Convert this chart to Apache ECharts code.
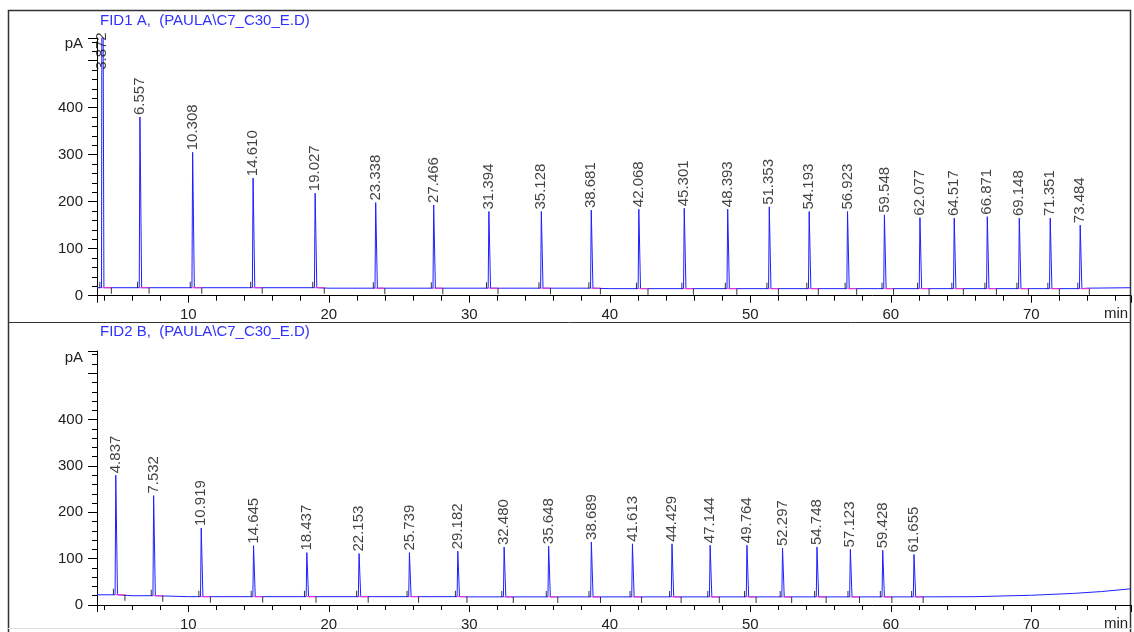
<!DOCTYPE html>
<html>
<head>
<meta charset="utf-8">
<script src="https://cdn.jsdelivr.net/npm/echarts@6/dist/echarts.min.js"></script>
<style>html,body{margin:0;padding:0;background:#fff}#main{width:1134px;height:632px}</style>
</head>
<body>
<div id="main"></div>
<script>
// FID1 A : retention times (min) and apex heights (pA)
var rtA = [3.872, 6.557, 10.308, 14.610, 19.027, 23.338, 27.466, 31.394, 35.128, 38.681, 42.068, 45.301,
           48.393, 51.353, 54.193, 56.923, 59.548, 62.077, 64.517, 66.871, 69.148, 71.351, 73.484];
var hA = [1200, 380, 305, 250, 218, 198, 193, 179, 179, 182, 184, 186,
          184, 189, 179, 179, 172, 166, 165, 168, 165, 165, 150];
var baseA = [[3.5, 17], [20, 16], [40, 15], [60, 15], [74, 16], [77.1, 17]];

// FID2 B
var rtB = [4.837, 7.532, 10.919, 14.645, 18.437, 22.153, 25.739, 29.182, 32.480, 35.648,
           38.689, 41.613, 44.429, 47.144, 49.764, 52.297, 54.748, 57.123, 59.428, 61.655];
var hB = [280, 236, 166, 128, 113, 111, 113, 116, 125, 127,
          136, 132, 132, 129, 129, 123, 125, 120, 118, 109];
var baseB = [[3.5, 22], [6, 20], [10, 18], [30, 17.5], [62, 17.5], [66, 18], [70, 21], [73, 25], [75, 29], [77.1, 35]];

var xTicks = [10, 20, 30, 40, 50, 60, 70];
var yTicks = [0, 100, 200, 300, 400];

var blue = '#1f1fff';
var font = 'Liberation Sans, Arial, sans-serif';

// baseline level at time t: last knot at or before t
function baseAt(base, t) {
    var b = base[0][1];
    for (var i = 0; i < base.length; i++) {
        if (base[i][0] <= t) b = base[i][1];
    }
    return b;
}

function trace(rt, h, base) {
    var pts = base.slice();
    for (var i = 0; i < rt.length; i++) {
        var b = baseAt(base, rt[i]);
        pts.push([rt[i] - 0.05, b], [rt[i], h[i]], [rt[i] + 0.12, b]);
    }
    pts.sort(function (a, b) { return a[0] - b[0]; });
    return pts;
}

// integration baseline under each peak
function pinks(rt, base) {
    var pts = [];
    for (var i = 0; i < rt.length; i++) {
        var b = baseAt(base, rt[i]);
        pts.push([rt[i], b], [rt[i] + 0.65, b], [rt[i] + 0.66, '-']);
    }
    return pts;
}

function marks(rt, base, shift) {
    return rt.map(function (t) { return [t + shift, baseAt(base, t)]; });
}

function labels(rt, h) {
    return rt.map(function (t, i) { return [t, Math.min(h[i], 476)]; });
}

function xAxis(idx) {
    return {
        gridIndex: idx, type: 'value', min: 3.5, max: 77.1, splitNumber: 7,
        axisLine: { lineStyle: { color: '#000', width: 1 } },
        axisTick: { length: 7, lineStyle: { color: '#000' } },
        minorTick: { show: true, splitNumber: 5, length: 5, lineStyle: { color: '#000' } },
        splitLine: { show: false },
        axisLabel: {
            margin: 12, fontSize: 15, color: '#222', fontFamily: font,
            formatter: function (v) {
                return xTicks.indexOf(Math.round(v)) >= 0 && Math.abs(v - Math.round(v)) < 1e-6 ? String(Math.round(v)) : '';
            }
        }
    };
}

function yAxis(idx) {
    return {
        gridIndex: idx, type: 'value', min: 0, max: 548, interval: 100,
        axisLine: { show: true, lineStyle: { color: '#000', width: 1 } },
        axisTick: { show: true, length: 9, lineStyle: { color: '#000' } },
        minorTick: { show: true, splitNumber: 5, length: 5, lineStyle: { color: '#000' } },
        splitLine: { show: false },
        axisLabel: {
            margin: 14, fontSize: 15, color: '#222', fontFamily: font,
            formatter: function (v) { return yTicks.indexOf(v) >= 0 ? String(v) : ''; }
        }
    };
}

function panelSeries(idx, rt, h, base) {
    return [{
        type: 'line', xAxisIndex: idx, yAxisIndex: idx, data: trace(rt, h, base),
        showSymbol: false, lineStyle: { color: blue, width: 1 }, animation: false, z: 3
    }, {
        type: 'line', xAxisIndex: idx, yAxisIndex: idx, data: pinks(rt, base),
        showSymbol: false, connectNulls: false, lineStyle: { color: '#ff33cc', width: 1 }, animation: false, z: 4
    }, {
        type: 'scatter', xAxisIndex: idx, yAxisIndex: idx, data: marks(rt, base, -0.17),
        symbol: 'rect', symbolSize: [1, 6], symbolOffset: [0, -3], itemStyle: { color: '#000' },
        animation: false, z: 5
    }, {
        type: 'scatter', xAxisIndex: idx, yAxisIndex: idx, data: marks(rt, base, 0.65),
        symbol: 'rect', symbolSize: [1, 6], symbolOffset: [0, 3], itemStyle: { color: '#000' },
        animation: false, z: 5
    }, {
        type: 'scatter', xAxisIndex: idx, yAxisIndex: idx, data: labels(rt, h),
        symbolSize: 0, animation: false, z: 6,
        label: {
            show: true, position: 'top', distance: 2, rotate: 90, align: 'left', verticalAlign: 'middle',
            fontSize: 15, color: '#111', fontFamily: font,
            formatter: function (p) { return p.value[0].toFixed(3); }
        }
    }];
}

var chart = echarts.init(document.getElementById('main'));
chart.setOption({
    animation: false,
    title: [
        { text: 'FID1 A,  (PAULA\\C7_C30_E.D)', left: 95, top: 8, textStyle: { color: '#3030ff', fontSize: 15, fontWeight: 'normal', fontFamily: font } },
        { text: 'FID2 B,  (PAULA\\C7_C30_E.D)', left: 95, top: 319, textStyle: { color: '#3030ff', fontSize: 15, fontWeight: 'normal', fontFamily: font } }
    ],
    grid: [
        { left: 97, right: 3, top: 38, height: 257.7 },
        { left: 97, right: 3, top: 351, height: 257.3 }
    ],
    xAxis: [xAxis(0), xAxis(1)],
    yAxis: [yAxis(0), yAxis(1)],
    series: panelSeries(0, rtA, hA, baseA).concat(panelSeries(1, rtB, hB, baseB)),
    graphic: [
        { type: 'polyline', shape: { points: [[8.5, 640], [8.5, 10.5], [1130.5, 10.5], [1130.5, 640]] }, style: { fill: 'none', stroke: '#333', lineWidth: 1.5 }, silent: true },
        { type: 'line', shape: { x1: 8, y1: 322.5, x2: 1131, y2: 322.5 }, style: { stroke: '#333', lineWidth: 1 }, silent: true },
        { type: 'line', shape: { x1: 8, y1: 628.5, x2: 1131, y2: 628.5 }, style: { stroke: '#ddd', lineWidth: 1 }, silent: true },
        { type: 'text', right: 1134 - 83, top: 36, style: { text: 'pA', fontSize: 15, fill: '#222', fontFamily: font } },
        { type: 'text', right: 1134 - 83, top: 350, style: { text: 'pA', fontSize: 15, fill: '#222', fontFamily: font } },
        { type: 'text', left: 1104, top: 306, style: { text: 'min', fontSize: 15, fill: '#222', fontFamily: font } },
        { type: 'text', left: 1104, top: 616, style: { text: 'min', fontSize: 15, fill: '#222', fontFamily: font } }
    ]
});
</script>
</body>
</html>
